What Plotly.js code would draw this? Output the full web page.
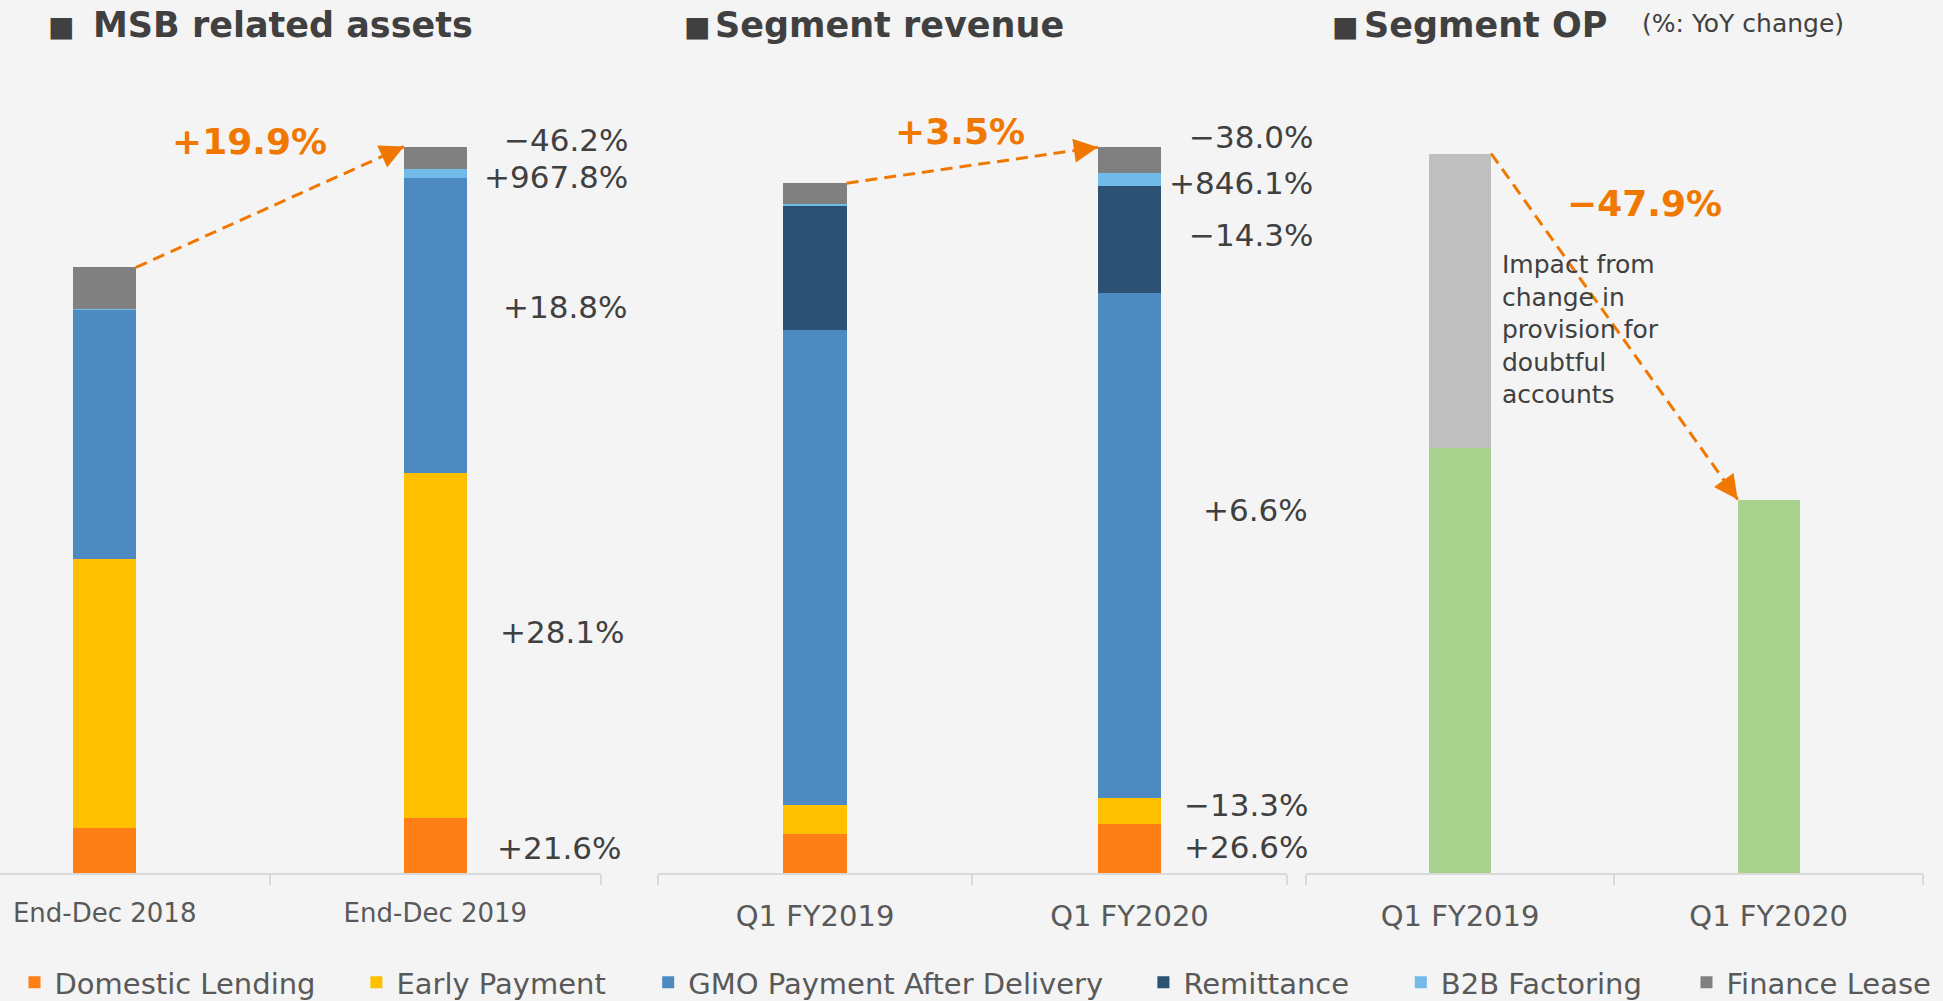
<!DOCTYPE html>
<html><head><meta charset="utf-8">
<script src="https://cdn.plot.ly/plotly-3.0.1.min.js"></script>
<style>html,body{margin:0;padding:0;background:#f3f4f3;} #chart{width:1943px;height:1001px;}</style>
</head><body><div id="chart"></div>
<script>
// ---------------- data ----------------
const assetCats = ['End-Dec 2018', 'End-Dec 2019'];
const quarterCats = ['Q1 FY2019', 'Q1 FY2020'];
const seriesNames = ['Domestic Lending', 'Early Payment', 'GMO Payment After Delivery', 'Remittance', 'B2B Factoring', 'Finance Lease'];

// MSB related assets (relative units)
const assetsDomesticLending = [45.5, 55.3];
const assetsEarlyPayment = [269.0, 344.6];
const assetsGmoAfterDelivery = [248.2, 294.9];
const assetsB2BFactoring = [0.84, 9.0];
const assetsFinanceLease = [42.0, 22.6];

// Segment revenue (relative units)
const revDomesticLending = [39.5, 49.5];
const revEarlyPayment = [29.0, 26.0];
const revGmoAfterDelivery = [475.0, 505.0];
const revRemittance = [124.0, 106.7];
const revB2BFactoring = [1.4, 13.3];
const revFinanceLease = [20.9, 25.3];

// Segment OP (relative units)
const opBase = [425.5, 373.5];
const opProvisionImpact = [294.0, 0];

// YoY change labels
const assetsYoY = ['+21.6%', '+28.1%', '+18.8%', '+967.8%', '\u221246.2%'];
const revYoY = ['+26.6%', '\u221213.3%', '+6.6%', '\u221214.3%', '+846.1%', '\u221238.0%'];
const assetsTotalYoY = '+19.9%';
const revTotalYoY = '+3.5%';
const opTotalYoY = '\u221247.9%';
const panelTitles = ['MSB related assets', 'Segment revenue', 'Segment OP'];
const unitNote = '(%: YoY change)';
const opNote = 'Impact from<br>change in<br>provision for<br>doubtful<br>accounts';

// ---------------- styles / layout constants ----------------
const W = 1943, H = 1001;
const px = v => v / W;
const py = v => 1 - v / H;
const FONT = 'DejaVu Sans, Verdana, sans-serif';
const BG = '#f3f4f3';
const ORANGE = '#f07800';
const TXT = '#404040';
const TXT2 = '#595959';
const AXC = '#d9d9d9';
const colors = ['#ff7f17', '#ffc000', '#4e8ac2', '#2b5173', '#72bbe8', '#808080'];
const opColors = ['#a9d18e', '#bfbfbf'];
const w1 = 0.189, w2 = 0.201, w3 = 0.201;
const yDomain = [py(873), py(73)];
const yRange = [0, 800];

const assetsSeries = [assetsDomesticLending, assetsEarlyPayment, assetsGmoAfterDelivery, null, assetsB2BFactoring, assetsFinanceLease];
const revSeries = [revDomesticLending, revEarlyPayment, revGmoAfterDelivery, revRemittance, revB2BFactoring, revFinanceLease];
const legendIds = ['legend', 'legend2', 'legend3', 'legend4', 'legend5', 'legend6'];

const traces = [];
assetsSeries.forEach((s, i) => {
  if (!s) return;
  traces.push({type: 'bar', x: assetCats, y: s, name: seriesNames[i], xaxis: 'x', yaxis: 'y', width: w1,
    marker: {color: colors[i], line: {width: 0}}, legend: legendIds[i], legendgroup: seriesNames[i], showlegend: true, hoverinfo: 'skip'});
});
revSeries.forEach((s, i) => {
  traces.push({type: 'bar', x: quarterCats, y: s, name: seriesNames[i], xaxis: 'x2', yaxis: 'y2', width: w2,
    marker: {color: colors[i], line: {width: 0}}, legend: legendIds[i], legendgroup: seriesNames[i], showlegend: i === 3, hoverinfo: 'skip'});
});
traces.push({type: 'bar', x: quarterCats, y: opBase, name: 'Segment OP', xaxis: 'x3', yaxis: 'y3', width: w3,
  marker: {color: opColors[0], line: {width: 0}}, showlegend: false, hoverinfo: 'skip'});
traces.push({type: 'bar', x: quarterCats, y: opProvisionImpact, name: 'Provision impact', xaxis: 'x3', yaxis: 'y3', width: w3,
  marker: {color: opColors[1], line: {width: 0}}, showlegend: false, hoverinfo: 'skip'});

const sumAt = (series, k) => series.filter(Boolean).reduce((a, s) => a + s[k], 0);

function xAxis(domain, range, size) {
  return {domain: domain, range: range, type: 'category', showgrid: false, zeroline: false,
    showline: true, linecolor: AXC, linewidth: 2, ticks: 'outside', tickson: 'boundaries', ticklen: 10,
    tickcolor: AXC, tickwidth: 2, tickfont: {family: FONT, size: size, color: TXT2}, ticklabelstandoff: 16, fixedrange: true};
}
function yAxis(anchor) {
  return {domain: yDomain, range: yRange, visible: false, showgrid: false, zeroline: false, anchor: anchor, fixedrange: true};
}

const shapes = [];
const annotations = [];
function trendArrow(xr, yr, w, t0, t1, f) {
  const x0 = 0 + w / 2, x1 = 1 - w / 2;
  shapes.push({type: 'line', xref: xr, yref: yr, x0: x0, y0: t0, x1: x1, y1: t1,
    line: {color: ORANGE, width: 3, dash: '12px,7px'}});
  annotations.push({xref: xr, yref: yr, axref: xr, ayref: yr, x: x1, y: t1,
    ax: x1 + f * (x0 - x1), ay: t1 + f * (t0 - t1), text: '', showarrow: true,
    arrowhead: 2, arrowsize: 1.6, arrowwidth: 3, arrowcolor: ORANGE, standoff: 0});
}
trendArrow('x', 'y', w1, sumAt(assetsSeries, 0), sumAt(assetsSeries, 1), 0.07);
trendArrow('x2', 'y2', w2, sumAt(revSeries, 0), sumAt(revSeries, 1), 0.08);
trendArrow('x3', 'y3', w3, opBase[0] + opProvisionImpact[0], opBase[1] + opProvisionImpact[1], 0.05);

function label(text, x, y, opts) {
  annotations.push(Object.assign({xref: 'paper', yref: 'paper', x: px(x), y: py(y), text: text, showarrow: false,
    xanchor: 'right', yanchor: 'middle', font: {family: FONT, size: 31, color: TXT}}, opts || {}));
}
// YoY labels per segment
const assetsLabelPos = [[623, 848], [626, 632], [629, 307], [630, 177], [630, 140]];
assetsYoY.forEach((t, i) => label(t, assetsLabelPos[i][0], assetsLabelPos[i][1]));
const revLabelPos = [[1310, 847], [1310, 805], [1310, 510], [1315, 235], [1315, 183], [1315, 137]];
revYoY.forEach((t, i) => label(t, revLabelPos[i][0], revLabelPos[i][1]));
// totals
const boldOrange = {family: FONT, size: 36, color: ORANGE, weight: 'bold'};
label('<b>' + assetsTotalYoY + '</b>', 249.5, 142, {xanchor: 'center', font: boldOrange});
label('<b>' + revTotalYoY + '</b>', 959.5, 131, {xanchor: 'center', font: boldOrange});
label('<b>' + opTotalYoY + '</b>', 1644, 203, {xanchor: 'center', font: boldOrange});
// note
label(opNote, 1500, 329, {xanchor: 'left', align: 'left', font: {family: FONT, size: 25, color: TXT}});
// titles
const titleFont = {family: FONT, size: 35, color: TXT};
const sqFont = {family: FONT, size: 28, color: '#404040'};
[[46, 93], [682, 715], [1330, 1364]].forEach((p, i) => {
  label('\u25A0', p[0], 27, {xanchor: 'left', font: sqFont});
  label('<b>' + panelTitles[i] + '</b>', p[1] - 2, 25, {xanchor: 'left', font: titleFont});
});
label(unitNote, 1640, 23, {xanchor: 'left', font: {family: FONT, size: 25, color: TXT}});

const layout = {
  width: W, height: H,
  margin: {l: 0, r: 0, t: 0, b: 0, autoexpand: false},
  paper_bgcolor: BG, plot_bgcolor: BG,
  barmode: 'stack',
  showlegend: true,
  hovermode: false,
  font: {family: FONT, color: TXT},
  xaxis: xAxis([0, px(600.7)], [-0.3165, 1.5], 26),
  xaxis2: xAxis([px(657.8), px(1286.7)], [-0.5, 1.5], 29),
  xaxis3: xAxis([px(1305.8), px(1923)], [-0.5, 1.5], 29),
  yaxis: yAxis('x'), yaxis2: yAxis('x2'), yaxis3: yAxis('x3'),
  shapes: shapes,
  annotations: annotations
};
const legendLeft = [14.5, 356.4, 648.2, 1143.4, 1400.8, 1686.5];
legendIds.forEach((id, i) => {
  layout[id] = {x: px(legendLeft[i]), y: py(957), xanchor: 'left', yanchor: 'top', orientation: 'h',
    bgcolor: 'rgba(0,0,0,0)', borderwidth: 0, font: {family: FONT, size: 29, color: TXT2},
    itemclick: false, itemdoubleclick: false};
});

Plotly.newPlot('chart', traces, layout, {displayModeBar: false, staticPlot: true});
</script></body></html>
